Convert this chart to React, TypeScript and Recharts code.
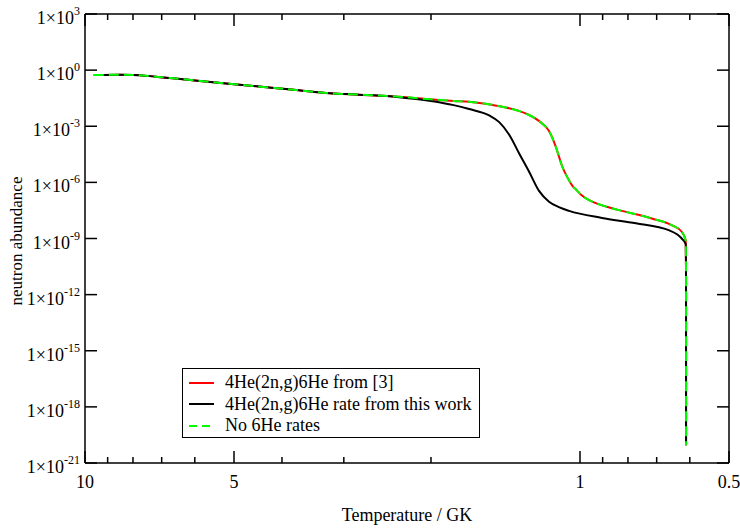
import { LineChart, Line, XAxis, YAxis, Legend } from "recharts";

const FONT = "'Liberation Serif', 'Times New Roman', serif";

// temperature ticks (GK)
const tempMajor = [10, 5, 1, 0.5];
const tempMinor = [9, 8, 7, 6, 4, 3, 2, 0.9, 0.8, 0.7, 0.6];
const abundanceTicks = [1e3, 1, 1e-3, 1e-6, 1e-9, 1e-12, 1e-15, 1e-18, 1e-21];

// 4He(2n,g)6He from [3]
const oldRateT = [9.6, 8.5, 8.0, 7.2, 6.0, 5.0, 4.2, 3.7, 3.2, 2.8, 2.32, 2.0, 1.8, 1.675, 1.436, 1.327, 1.267, 1.193, 1.155, 1.12, 1.087, 1.052, 1.035, 1.02, 0.995, 0.96, 0.929, 0.834, 0.716, 0.653, 0.623, 0.6115, 0.6106, 0.6105];
const oldRateY = [0.55, 0.56, 0.55, 0.447, 0.28, 0.178, 0.115, 0.083, 0.058, 0.049, 0.038, 0.0275, 0.0224, 0.0204, 0.011, 6.5e-3, 4.0e-3, 1.41e-3, 5.5e-4, 8.5e-5, 7.5e-6, 1.25e-6, 6.3e-7, 4.3e-7, 2.2e-7, 1.15e-7, 7.8e-8, 3.3e-8, 1.18e-8, 5.2e-9, 2.3e-9, 8e-10, 1e-11, 9e-21];

// 4He(2n,g)6He rate from this work
const newRateT = [9.6, 8.5, 8.0, 7.2, 6.0, 5.0, 4.2, 3.7, 3.2, 2.8, 2.32, 2.0, 1.8, 1.675, 1.526, 1.456, 1.39, 1.327, 1.267, 1.21, 1.155, 1.1, 1.052, 0.903, 0.771, 0.662, 0.623, 0.6115, 0.6106, 0.6105];
const newRateY = [0.55, 0.56, 0.55, 0.447, 0.28, 0.178, 0.115, 0.083, 0.058, 0.049, 0.036, 0.0224, 0.0135, 8.3e-3, 3.8e-3, 1.66e-3, 3.5e-4, 3.5e-5, 3.7e-6, 3.5e-7, 9.3e-8, 4.6e-8, 3.0e-8, 1.26e-8, 6.5e-9, 2.8e-9, 1.0e-9, 5e-10, 1e-11, 9e-21];

// No 6He rates (same as [3])
const noRateT = oldRateT;
const noRateY = oldRateY;

const series = [
  { name: "4He(2n,g)6He from [3]", color: "#ff0000", dash: undefined as string | undefined, data: oldRateT.map((t, i) => ({ t, y: oldRateY[i] })) },
  { name: "4He(2n,g)6He rate from this work", color: "#000000", dash: undefined as string | undefined, data: newRateT.map((t, i) => ({ t, y: newRateY[i] })) },
  { name: "No 6He rates", color: "#00ff00", dash: "10 5", data: noRateT.map((t, i) => ({ t, y: noRateY[i] })) },
];

const isMajor = (v: number) => tempMajor.includes(v);

function BottomTick(props: any) {
  const { x, y, payload } = props;
  const major = isMajor(payload.value);
  return (
    <g>
      <line x1={x} y1={y} x2={x} y2={y - (major ? 12 : 6)} stroke="#000" strokeWidth={1.5} />
      {major && (
        <text x={x} y={y + 25} textAnchor="middle" fontFamily={FONT} fontSize={18} fill="#000">
          {payload.value}
        </text>
      )}
    </g>
  );
}

function TopTick(props: any) {
  const { x, y, payload } = props;
  const major = isMajor(payload.value);
  return <line x1={x} y1={y} x2={x} y2={y + (major ? 12 : 6)} stroke="#000" strokeWidth={1.5} />;
}

function LeftTick(props: any) {
  const { x, y, payload } = props;
  const exp = Math.round(Math.log10(payload.value));
  return (
    <g>
      <line x1={x} y1={y} x2={x + 12} y2={y} stroke="#000" strokeWidth={1.5} />
      <text x={x - 5} y={y + 10} textAnchor="end" fontFamily={FONT} fontSize={18} fill="#000">
        1×10<tspan dy={-9} fontSize={12}>{exp}</tspan>
      </text>
    </g>
  );
}

function RightTick(props: any) {
  const { x, y } = props;
  return <line x1={x} y1={y} x2={x - 12} y2={y} stroke="#000" strokeWidth={1.5} />;
}

function LegendBox() {
  return (
    <div style={{ boxSizing: "border-box", width: 298, height: 70, border: "1px solid #000", background: "#fff", padding: "3px 0", fontFamily: FONT, fontSize: 18, color: "#000" }}>
      {series.map((s) => (
        <div key={s.name} style={{ display: "flex", alignItems: "center", height: 21.5, whiteSpace: "nowrap" }}>
          <svg width={42} height={10} style={{ flex: "none" }}>
            <line x1={6} y1={5} x2={31} y2={5} stroke={s.color} strokeWidth={2} strokeDasharray={s.dash ? "8 5" : undefined} />
          </svg>
          <span>{s.name}</span>
        </div>
      ))}
    </div>
  );
}

const axisLine = { stroke: "#000", strokeWidth: 1.5 };

export default function App() {
  return (
    <div style={{ position: "absolute", left: 0, top: 0, background: "#fff" }}>
      <LineChart width={740} height={528} margin={{ top: 0, right: 0, bottom: 0, left: 0 }}>
        <XAxis
          dataKey="t"
          type="number"
          scale="log"
          domain={[0.5, 10]}
          reversed
          allowDataOverflow
          ticks={[...tempMajor, ...tempMinor]}
          interval={0}
          height={65}
          tickLine={false}
          tickSize={0}
          tickMargin={0}
          axisLine={axisLine}
          tick={(p: any) => <BottomTick {...p} />}
          label={{ value: "Temperature / GK", position: "insideBottom", offset: 7, fill: "#000", fontSize: 18, fontFamily: FONT }}
        />
        <XAxis
          xAxisId="top"
          orientation="top"
          dataKey="t"
          type="number"
          scale="log"
          domain={[0.5, 10]}
          reversed
          allowDataOverflow
          ticks={[...tempMajor, ...tempMinor]}
          interval={0}
          height={14}
          tickLine={false}
          tickSize={0}
          tickMargin={0}
          axisLine={axisLine}
          tick={(p: any) => <TopTick {...p} />}
        />
        <YAxis
          type="number"
          scale="log"
          domain={[1e-21, 1e3]}
          allowDataOverflow
          ticks={abundanceTicks}
          interval={0}
          width={85}
          tickLine={false}
          tickSize={0}
          tickMargin={0}
          axisLine={axisLine}
          tick={(p: any) => <LeftTick {...p} />}
          label={{
            content: () => (
              <text x={22} y={241} transform="rotate(-90 22 241)" textAnchor="middle" fontFamily={FONT} fontSize={17} fill="#000">
                neutron abundance
              </text>
            ),
          }}
        />
        <YAxis
          yAxisId="right"
          orientation="right"
          type="number"
          scale="log"
          domain={[1e-21, 1e3]}
          allowDataOverflow
          ticks={abundanceTicks}
          interval={0}
          width={11}
          tickLine={false}
          tickSize={0}
          tickMargin={0}
          axisLine={axisLine}
          tick={(p: any) => <RightTick {...p} />}
        />
        {series.map((s) => (
          <Line
            key={s.name}
            data={s.data}
            dataKey="y"
            name={s.name}
            type="monotone"
            stroke={s.color}
            strokeWidth={2}
            strokeDasharray={s.dash}
            dot={false}
            isAnimationActive={false}
          />
        ))}
        <Legend
          layout="vertical"
          align="center"
          verticalAlign="middle"
          content={() => <LegendBox />}
          wrapperStyle={{ left: 182, top: 368, width: 298 }}
        />
      </LineChart>
    </div>
  );
}
